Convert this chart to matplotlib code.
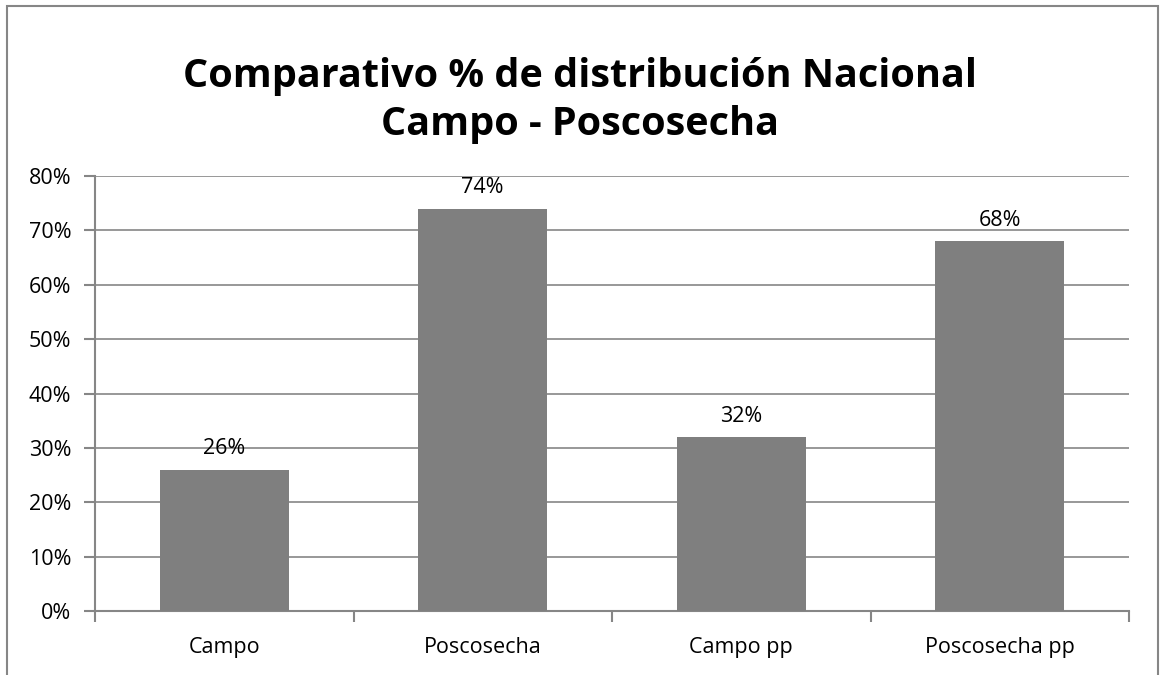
import matplotlib.pyplot as plt
from matplotlib.patches import Rectangle
import numpy as np

categorias = ['Campo', 'Poscosecha', 'Campo pp', 'Poscosecha pp']
valores = [26, 74, 32, 68]
ticks_y = [0, 10, 20, 30, 40, 50, 60, 70, 80]

plt.rcParams['font.family'] = ['Open Sans', 'DejaVu Sans']

fig = plt.figure(figsize=(11.6, 6.75), dpi=100)
W, H = 1160, 675
ax = fig.add_axes([95 / W, 1 - 611 / H, (1129 - 95) / W, (611 - 176) / H])

gris = '#868686'
x = np.arange(len(categorias))
ax.bar(x, valores, width=0.5, color='#7f7f7f', zorder=3)

ax.set_xlim(-0.5, len(categorias) - 0.5)
ax.set_ylim(0, 80)
ax.set_yticks(ticks_y)
ax.set_yticklabels([f'{v}%' for v in ticks_y], fontsize=15.5)
ax.yaxis.grid(True, color=gris, linewidth=1.2, zorder=0)

# etiquetas del eje x centradas entre marcas
ax.set_xticks(np.arange(-0.5, len(categorias)))
ax.set_xticklabels([])
ax.set_xticks(x, minor=True)
ax.set_xticklabels(categorias, minor=True, fontsize=15.5)
ax.tick_params(axis='x', which='minor', length=0, pad=19)
ax.tick_params(axis='x', which='major', length=8, width=1.5, color=gris)
ax.tick_params(axis='y', length=8, width=1.5, color=gris, pad=9)

for s in ['top', 'right']:
    ax.spines[s].set_visible(False)
for s in ['left', 'bottom']:
    ax.spines[s].set_color(gris)
    ax.spines[s].set_linewidth(1.5)

for xi, v in zip(x, valores):
    ax.text(xi, v + 3.8, f'{v}%', ha='center', va='center', fontsize=15.5, zorder=4)

fig.text(0.5, 1 - 76 / H, 'Comparativo % de distribución Nacional',
         ha='center', va='center', fontsize=28.5, fontweight='bold')
fig.text(0.5, 1 - 124 / H, 'Campo - Poscosecha',
         ha='center', va='center', fontsize=28.5, fontweight='bold')

# borde del gráfico
fig.patches.append(Rectangle((7 / W, -0.05), (1158 - 7) / W, 1 - 6 / H + 0.05,
                             transform=fig.transFigure, fill=False,
                             edgecolor=gris, linewidth=1.5))

fig.savefig('out.png', dpi=100)
